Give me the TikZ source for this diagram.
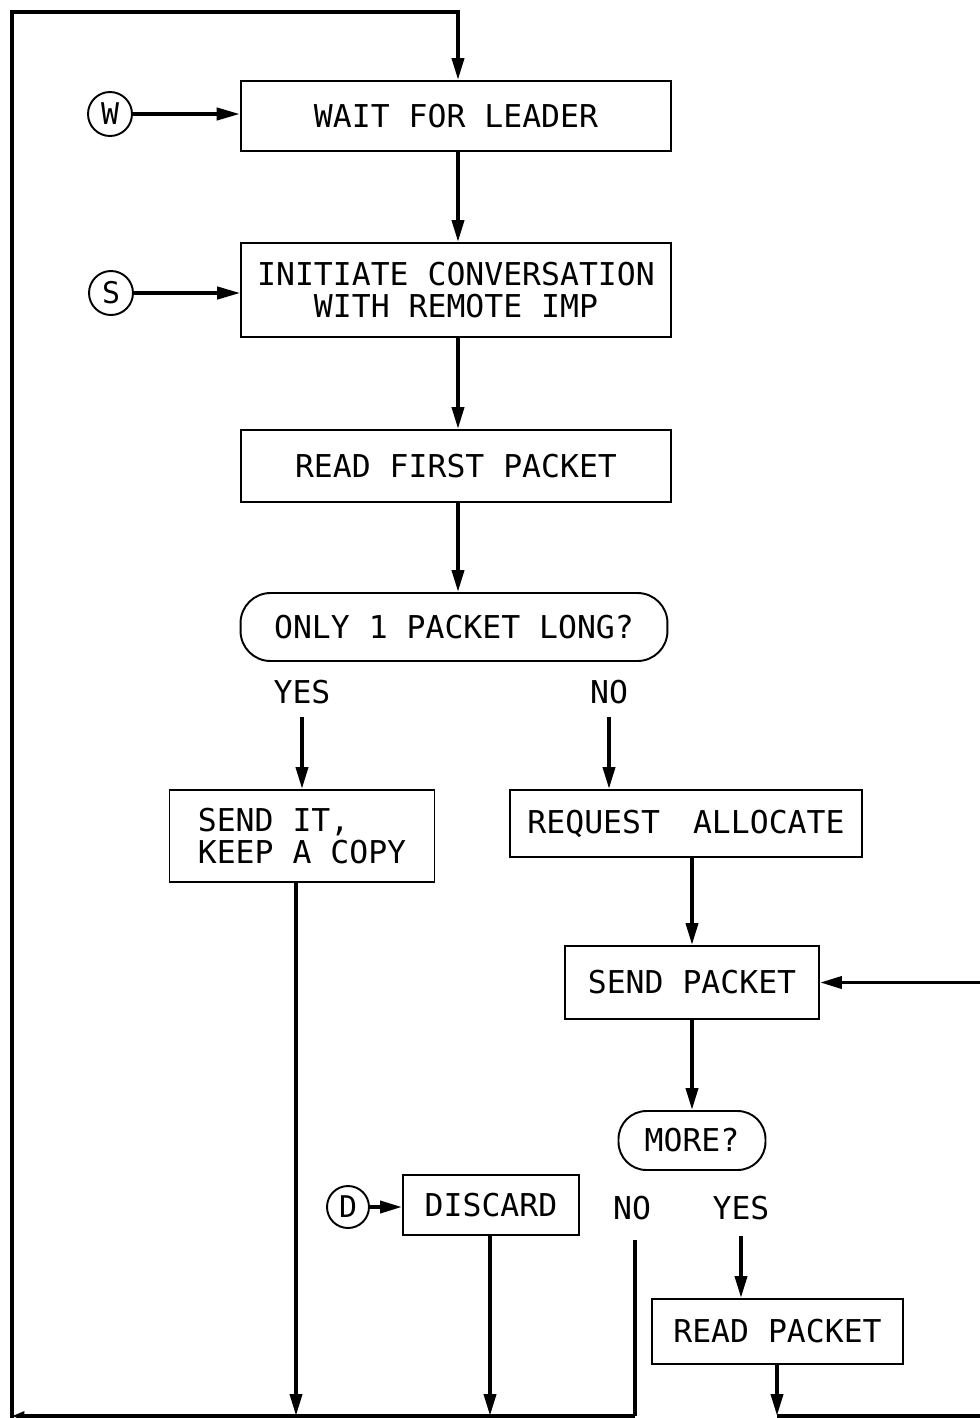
\documentclass[tikz,border=0pt]{standalone}
\usepackage{fontspec}
\newfontfamily\lettering{DejaVu Sans Mono}
\usetikzlibrary{arrows.meta}
\begin{document}
\begin{tikzpicture}[x=0.02cm,y=-0.02cm,
  txt/.style={font=\lettering\fontsize{17.9}{18.2}\selectfont},
  box/.style={txt, draw, line width=1.1pt, inner sep=0pt, align=center},
  decision/.style={box, rounded corners=0.6cm},
  label/.style={txt, inner sep=0pt},
  circ/.style={draw, circle, line width=1.1pt, inner sep=0pt, minimum size=0.88cm,
    font=\lettering\fontsize{17}{18}\selectfont},
  flow/.style={line width=2.2pt, -{Triangle[length=12.5pt,width=6.8pt]}},
  entry/.style={line width=1.8pt, -{Triangle[length=13pt,width=7pt]}},
  plain/.style={line width=2.2pt},
  tip/.style={line width=2.2pt, -{Triangle[length=7pt,width=5pt]}}]
\useasboundingbox (0,0) rectangle (980,1418);

% main column
\node[box, minimum width=8.62cm, minimum height=1.40cm] (wait) at (456,116) {WAIT FOR LEADER};
\node[box, minimum width=8.60cm, minimum height=1.88cm] (init) at (456,290) {INITIATE CONVERSATION\\WITH REMOTE IMP};
\node[box, minimum width=8.62cm, minimum height=1.44cm] (readfirst) at (456,466) {READ FIRST PACKET};
\node[decision, minimum width=8.54cm, minimum height=1.36cm] (only) at (454,627) {ONLY 1 PACKET LONG?};

\node[label] (yes1) at (302,692) {YES};
\node[label] (no1) at (609,692) {NO};

\node[box, align=left, minimum width=5.30cm, minimum height=1.84cm] (sendit) at (302,836) {SEND IT,\\KEEP A COPY};
\node[box, minimum width=7.04cm, minimum height=1.34cm] (request) at (686,823.5) {REQUEST\ \hskip0.45em ALLOCATE};
\node[box, minimum width=5.08cm, minimum height=1.46cm] (sendpkt) at (692,982.5) {SEND PACKET};
\node[decision, rounded corners=0.56cm, minimum width=2.94cm, minimum height=1.18cm] (more) at (692,1140.5) {MORE?};

\node[label] (no2) at (632,1208) {NO};
\node[label] (yes2) at (741,1208) {YES};

\node[box, minimum width=5.02cm, minimum height=1.30cm] (readpkt) at (777.5,1331.5) {READ PACKET};
\node[box, minimum width=3.52cm, minimum height=1.20cm] (discard) at (491,1205) {DISCARD};

% entry points
\node[circ] (w) at (110,114) {W};
\node[circ] (s) at (111,293) {S};
\node[circ, minimum size=0.84cm] (d) at (348,1207) {D};

% return lines
\coordinate (tl) at (12,12);
\coordinate (tr) at (458,12);
\coordinate (bl) at (12,1416);
\coordinate (bYes) at (296,1416);
\coordinate (bDis) at (490,1416);
\coordinate (bNo) at (635,1416);
\coordinate (bRead) at (777,1416);
\coordinate (br) at (980,1416);
\coordinate (rr) at (980,981);

% connectors
\draw[entry] (w.east) -- (wait.west |- w.east);
\draw[entry] (s.east) -- (init.west |- s.east);
\draw[flow] (d.east) -- (discard.west |- d.east);

\draw[flow] (wait.south -| tr) -- (init.north -| tr);
\draw[flow] (init.south -| tr) -- (readfirst.north -| tr);
\draw[flow] (readfirst.south -| tr) -- (only.north -| tr);
\draw[flow] ([yshift=-7pt]yes1.south) -- (sendit.north -| yes1.south);
\draw[flow] ([yshift=-7pt]no1.south) -- (request.north -| no1.south);
\draw[flow] (request.south -| sendpkt.north) -- (sendpkt.north);
\draw[flow] (sendpkt.south) -- (more.north);
\draw[flow] ([yshift=-9pt]yes2.south) -- (readpkt.north -| yes2.south);
\draw[flow] (sendpkt.east -| rr) -- (sendpkt.east);

\draw[flow] (sendit.south -| bYes) -- (bYes);
\draw[flow] (discard.south -| bDis) -- (bDis);
\draw[flow] (readpkt.south -| bRead) -- (bRead);
\draw[plain] ([yshift=-11pt]no2.south -| bNo) -- (bNo);
\draw[plain] (bRead) -- (br);

\draw[tip] (bNo) -- (bl);
\draw[plain, line cap=rect] (bl) -- (tl) -- (tr);
\draw[flow] (tr) -- (wait.north -| tr);
\end{tikzpicture}
\end{document}
